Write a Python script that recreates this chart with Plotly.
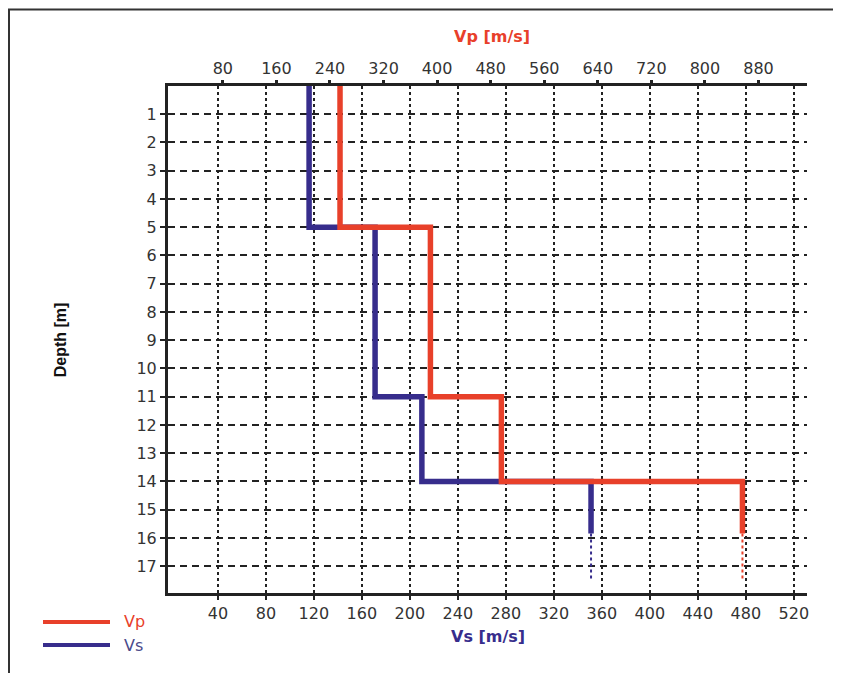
import plotly.graph_objects as go

# ---- data ----
depth_bounds = [0, 5, 11, 14, 15.84]      # layer boundaries [m]
vs_layers = [116, 171, 210, 351]           # Vs per layer [m/s]
vp_layers = [255, 390, 496, 856]           # Vp per layer [m/s]
extension_end = 17.48                      # dotted continuation of last layer [m]
vs_ticks = [40, 80, 120, 160, 200, 240, 280, 320, 360, 400, 440, 480, 520]
vp_ticks = [80, 160, 240, 320, 400, 480, 560, 640, 720, 800, 880]
depth_ticks = list(range(1, 18))

RED = "#e8402a"
BLUE = "#372d8c"
AX = "#222222"
TICKFONT = dict(family="DejaVu Sans, Arial", size=16, color="#333333")

fig = go.Figure()

# Vs (drawn first so Vp lies on top)
fig.add_trace(go.Scatter(
    x=vs_layers + [vs_layers[-1]], y=depth_bounds, mode="lines",
    line=dict(color=BLUE, width=5.5, shape="vh"), name="Vs",
    xaxis="x", yaxis="y", showlegend=False))
fig.add_trace(go.Scatter(
    x=[vs_layers[-1], vs_layers[-1]], y=[depth_bounds[-1], extension_end],
    mode="lines", line=dict(color=BLUE, width=2, dash="dot"),
    xaxis="x", yaxis="y", showlegend=False))

# Vp
fig.add_trace(go.Scatter(
    x=vp_layers + [vp_layers[-1]], y=depth_bounds, mode="lines",
    line=dict(color=RED, width=5.5, shape="vh"), name="Vp",
    xaxis="x2", yaxis="y", showlegend=False))
fig.add_trace(go.Scatter(
    x=[vp_layers[-1], vp_layers[-1]], y=[depth_bounds[-1], extension_end],
    mode="lines", line=dict(color=RED, width=2, dash="dot"),
    xaxis="x2", yaxis="y", showlegend=False))

# ---- layout geometry (page pixels; the page body adds an 8px offset) ----
OFF = 8
W, H = 841 - OFF, 673 - OFF
P_LEFT, P_RIGHT, P_TOP, P_BOTTOM = 168, 807, 85.5, 593   # plot area in page px
L = P_LEFT - OFF
T = P_TOP - OFF
R = W - (P_RIGHT - OFF)
B = H - (P_BOTTOM - OFF)
pw, ph = W - L - R, H - T - B

def px(xpage):
    return (xpage - OFF - L) / pw

def py(ypage):
    return (H - B - (ypage - OFF)) / ph

shapes = [
    # outer frame
    dict(type="rect", xref="paper", yref="paper",
         x0=px(9), x1=px(900), y0=py(800), y1=py(9),
         line=dict(color="#333333", width=2), layer="below"),
    # legend lines
    dict(type="line", xref="paper", yref="paper",
         x0=px(43), x1=px(110), y0=py(622), y1=py(622),
         line=dict(color=RED, width=4)),
    dict(type="line", xref="paper", yref="paper",
         x0=px(43), x1=px(110), y0=py(645), y1=py(645),
         line=dict(color=BLUE, width=4)),
]

def ann(text, x, y, font, xanchor="center", angle=0):
    return dict(text=text, xref="paper", yref="paper", x=px(x), y=py(y),
                xanchor=xanchor, yanchor="middle", showarrow=False,
                textangle=angle, font=font)

annotations = [
    ann("<b>Vp [m/s]</b>", 492, 36, dict(family="DejaVu Sans, Arial", size=16, color=RED)),
    ann("<b>Vs [m/s]</b>", 488, 637, dict(family="DejaVu Sans, Arial", size=16, color=BLUE)),
    ann("<b>Depth [m]</b>", 60, 340,
        dict(family="Liberation Sans Narrow, Arial Narrow, Liberation Sans", size=16, color="#111111"),
        angle=-90),
    ann("Vp", 122, 622, dict(family="DejaVu Sans, Arial", size=16, color=RED), xanchor="left"),
    ann("Vs", 122, 646, dict(family="DejaVu Sans, Arial", size=16, color="#4a4a8a"), xanchor="left"),
]

fig.update_layout(
    width=W, height=H,
    margin=dict(l=L, r=R, t=T, b=B, pad=0),
    paper_bgcolor="white", plot_bgcolor="white",
    showlegend=False,
    shapes=shapes, annotations=annotations,
    xaxis=dict(
        range=[-1.6, 531], tickvals=vs_ticks, ticktext=[str(v) for v in vs_ticks],
        side="bottom", showline=True, linecolor=AX, linewidth=3,
        ticks="outside", ticklen=4, tickwidth=2, tickcolor=AX,
        showgrid=True, gridcolor=AX, gridwidth=2, griddash="3px,3px",
        zeroline=False, tickfont=TICKFONT, fixedrange=True),
    xaxis2=dict(
        range=[-1.9, 952.4], tickvals=vp_ticks, ticktext=[str(v) for v in vp_ticks],
        side="top", overlaying="x", anchor="y", showline=True, linecolor=AX, linewidth=3,
        ticks="outside", ticklen=3, tickwidth=3, tickcolor=AX,
        showgrid=False, zeroline=False, tickfont=TICKFONT, fixedrange=True),
    yaxis=dict(
        range=[17.95, 0], tickvals=depth_ticks, ticktext=[str(v) for v in depth_ticks],
        showline=True, linecolor=AX, linewidth=3,
        ticks="outside", ticklen=5, tickwidth=2, tickcolor=AX,
        showgrid=True, gridcolor=AX, gridwidth=1.5, griddash="7px,5px",
        zeroline=False, tickfont=TICKFONT, fixedrange=True),
)

fig.write_html("out.html")
